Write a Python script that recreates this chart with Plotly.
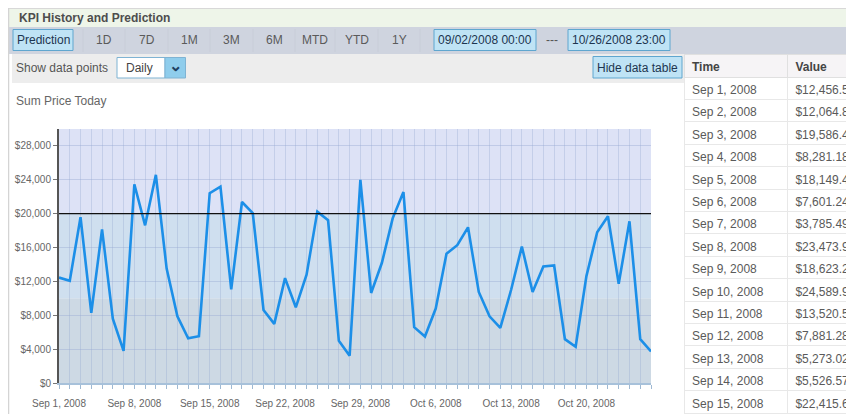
import plotly.graph_objects as go
import pandas as pd

# The page places the figure 8px in from the top-left corner of the window,
# so the figure is 8px smaller and all window coordinates are shifted by 8px.
OFF = 8
W, H = 854 - OFF, 414 - OFF

# ---------------- data ----------------
dates = pd.date_range("2008-09-01", "2008-10-26", freq="D")
values = [12456.56, 12064.80, 19586.46, 8281.18, 18149.43, 7601.24, 3785.49,
          23473.93, 18623.29, 24589.93, 13520.55, 7881.28, 5273.02, 5526.57,
          22415.60, 23200, 11060, 21380, 20080, 8630, 6980,
          12390, 8940, 12790, 20240, 19220, 4980, 3220,
          24000, 10630, 14200, 19450, 22550, 6590, 5490,
          8790, 15260, 16280, 18390, 10750, 7880, 6510,
          10980, 16120, 10750, 13770, 13880, 5180, 4280,
          12630, 17810, 19690, 11730, 19100, 5180, 3730]
threshold = 20000
bands = [(0, 10000, "#cdd9e4"), (10000, 20000, "#cfdfef"), (20000, 30000, "#dde2f6")]
y_ticks = [0, 4000, 8000, 12000, 16000, 20000, 24000, 28000]
table_rows = 15
toolbar_items = ["1D", "7D", "1M", "3M", "6M", "MTD", "YTD", "1Y"]

FONT = "Liberation Sans, Arial, sans-serif"


def px(x):
    return (x - OFF) / W


def py(y):
    return 1 - (y - OFF) / H


shapes = []
annotations = []


def rect(x0, y0, x1, y1, fill, line=None, lw=1):
    shapes.append(dict(type="rect", xref="paper", yref="paper",
                       x0=px(x0), x1=px(x1), y0=py(y1), y1=py(y0),
                       fillcolor=fill, layer="below",
                       line=dict(color=line or fill, width=lw if line else 0)))


def hline(x0, x1, y, color, w=1):
    shapes.append(dict(type="line", xref="paper", yref="paper",
                       x0=px(x0), x1=px(x1), y0=py(y), y1=py(y),
                       line=dict(color=color, width=w)))


def vline(x, y0, y1, color, w=1):
    shapes.append(dict(type="line", xref="paper", yref="paper",
                       x0=px(x), x1=px(x), y0=py(y0), y1=py(y1),
                       line=dict(color=color, width=w)))


def text(x, y, s, size=12, color="#555", anchor="left", bold=False):
    annotations.append(dict(xref="paper", yref="paper", x=px(x), y=py(y),
                            text=f"<b>{s}</b>" if bold else s, showarrow=False,
                            xanchor=anchor, yanchor="middle",
                            font=dict(family=FONT, size=size, color=color)))


# ---------------- widget chrome ----------------
vline(8.5, 8, 414, "#d4d4d4", 1.5)
rect(9, 8, 854, 27, "#eef5e9")
hline(9, 854, 8.5, "#d8d8d8", 1)
text(17, 17.5, "KPI History and Prediction", 12, "#4d4d4d", bold=True)
rect(9, 27, 854, 54, "#cfd4df")

rect(13, 29.5, 73, 50.5, "#bfe3f5", "#5fa6cf")
text(43, 40, "Prediction", 12, "#1d3550", "center")
seps = [83, 125, 168, 210, 253, 295, 335, 378, 420]
for sx in seps:
    vline(sx, 29, 52, "#c8cdd8")
for i, item in enumerate(toolbar_items):
    text((seps[i] + seps[i + 1]) / 2, 40, item, 12, "#5a5a5a", "center")

rect(434, 29.5, 536, 50.5, "#bfe3f5", "#5fa6cf")
text(485, 40, "09/02/2008 00:00", 12, "#1d3550", "center")
text(552, 40, "---", 12, "#555", "center")
rect(568, 29.5, 670, 50.5, "#bfe3f5", "#5fa6cf")
text(619, 40, "10/26/2008 23:00", 12, "#1d3550", "center")

rect(12, 54, 684, 83, "#ededed")
text(14, 68, "Show data points", 12, "#555")
rect(117, 57.5, 165, 78, "#ffffff", "#7fb3d3")
rect(165, 57.5, 185.5, 78, "#8fcdec", "#7fb3d3")
text(124, 67.5, "Daily", 12, "#444")
text(175.5, 66, "\u2304", 16, "#1f3f60", "center", bold=True)
rect(593, 56.5, 682, 78, "#bfe3f5", "#5fa6cf")
text(637.5, 67.5, "Hide data table", 12, "#1d3550", "center")

text(14, 101, "Sum Price Today", 12, "#666")

# ---------------- chart background bands + threshold ----------------
for lo, hi, col in bands:
    shapes.append(dict(type="rect", xref="x domain", yref="y", x0=0, x1=1,
                       y0=lo, y1=hi, fillcolor=col, layer="below", line_width=0))
shapes.append(dict(type="line", xref="x domain", yref="y", x0=0, x1=1,
                   y0=threshold, y1=threshold, line=dict(color="#111", width=1.2)))

fig = go.Figure()
fig.add_trace(go.Scatter(x=dates, y=values, mode="lines",
                         line=dict(color="#1c8fe8", width=2.6),
                         hoverinfo="skip", showlegend=False))

# ---------------- data table ----------------
tbl_dates = [d.strftime("%b ") + str(d.day) + d.strftime(", %Y") for d in dates[:table_rows]]
tbl_vals = ["${:,.2f}".format(v) for v in values[:table_rows]]
fig.add_trace(go.Table(
    domain=dict(x=[px(684), 1], y=[0, py(54)]),
    columnwidth=[104, 66],
    header=dict(values=["Time", "Value"], fill_color="#f6f4f6",
                line=dict(color="#e0e0e0", width=1), align="left", height=23,
                font=dict(family=FONT, size=12, color="#444", weight="bold")),
    cells=dict(values=[tbl_dates, tbl_vals], fill_color="#ffffff",
               line=dict(color="#e8e8e8", width=1), align="left", height=22.4,
               font=dict(family=FONT, size=12, color="#5a5a5a")),
))

fig.update_layout(
    width=W, height=H, margin=dict(l=0, r=0, t=0, b=0, autoexpand=False),
    paper_bgcolor="white", plot_bgcolor="rgba(0,0,0,0)",
    shapes=shapes, annotations=annotations, showlegend=False,
    font=dict(family=FONT, size=10, color="#666"),
    xaxis=dict(domain=[px(59), px(651)], type="date", automargin=False,
               range=[dates[0], dates[-1]],
               tick0=dates[0], dtick=7 * 86400000, tickformat="%b %-d, %Y",
               ticks="outside", ticklen=4, tickcolor="#9fb9d3",
               ticklabelstandoff=6,
               showline=True, linecolor="#a7c1da", linewidth=1.5,
               showgrid=True, gridcolor="rgba(150,168,210,0.35)", gridwidth=1,
               minor=dict(dtick=86400000, showgrid=True,
                          gridcolor="rgba(150,168,210,0.35)", gridwidth=1,
                          ticks="outside", ticklen=4, tickcolor="#9fb9d3"),
               tickfont=dict(size=10, color="#666"), zeroline=False, fixedrange=True),
    yaxis=dict(domain=[py(383), py(129)], range=[0, 30000], automargin=False,
               tickvals=y_ticks, tickformat="$,.0f",
               ticks="outside", ticklen=4, tickcolor="#777",
               showline=True, linecolor="#555", linewidth=2,
               showgrid=True, gridcolor="rgba(150,168,210,0.4)", gridwidth=1,
               tickfont=dict(size=10, color="#666"), zeroline=False, fixedrange=True),
)

fig.write_html("out.html", config={"displayModeBar": False})
